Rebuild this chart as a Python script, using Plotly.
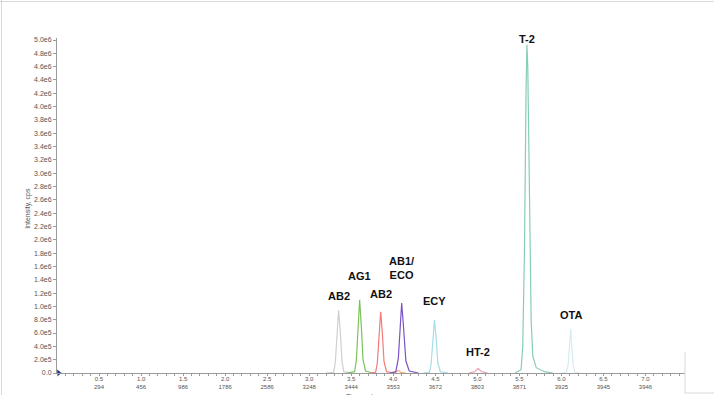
import plotly.graph_objects as go

# ---- data (time in min, intensity in cps) ----
peak_names = ["AB2", "AG1", "AB2", "AB1/<br>ECO", "ECY", "HT-2", "T-2", "OTA"]
peak_colors = ["#cfcfcf", "#7cc35a", "#f27b7b", "#7b55c4", "#a8dcea", "#f0a7b5", "#86cdb6", "#d6ebf2"]

ab2a_t = [3.20, 3.29, 3.31, 3.33, 3.35, 3.37, 3.39, 3.41, 3.50]
ab2a_i = [0, 0.01e6, 0.15e6, 0.62e6, 0.94e6, 0.62e6, 0.18e6, 0.02e6, 0]

ag1_t = [3.45, 3.54, 3.56, 3.58, 3.60, 3.62, 3.64, 3.67, 3.75]
ag1_i = [0, 0.02e6, 0.18e6, 0.72e6, 1.10e6, 0.70e6, 0.20e6, 0.03e6, 0]

ab2b_t = [3.72, 3.79, 3.81, 3.83, 3.85, 3.87, 3.89, 3.92, 4.00]
ab2b_i = [0, 0.01e6, 0.15e6, 0.60e6, 0.92e6, 0.60e6, 0.17e6, 0.02e6, 0]

ab1_t = [3.96, 4.03, 4.06, 4.08, 4.10, 4.12, 4.15, 4.19, 4.30]
ab1_i = [0, 0.02e6, 0.22e6, 0.75e6, 1.05e6, 0.72e6, 0.18e6, 0.03e6, 0]

eco_t = [3.98, 4.03, 4.06, 4.09, 4.15]
eco_i = [0, 0.01e6, 0.04e6, 0.01e6, 0]

ecy_t = [4.36, 4.43, 4.45, 4.47, 4.49, 4.51, 4.53, 4.56, 4.65]
ecy_i = [0, 0.01e6, 0.13e6, 0.52e6, 0.80e6, 0.52e6, 0.15e6, 0.02e6, 0]

ht2_t = [4.90, 4.97, 5.01, 5.05, 5.12]
ht2_i = [0, 0.02e6, 0.07e6, 0.02e6, 0]

t2_t = [5.45, 5.52, 5.54, 5.56, 5.58, 5.59, 5.60, 5.62, 5.64, 5.66, 5.70, 5.80, 5.90]
t2_i = [0, 0.05e6, 0.40e6, 1.80e6, 4.30e6, 4.93e6, 4.60e6, 2.50e6, 0.80e6, 0.25e6, 0.08e6, 0.02e6, 0]

ota_t = [6.00, 6.06, 6.08, 6.10, 6.11, 6.12, 6.14, 6.16, 6.22]
ota_i = [0, 0.01e6, 0.12e6, 0.45e6, 0.66e6, 0.45e6, 0.12e6, 0.01e6, 0]

x_tickvals = [0.5, 1.0, 1.5, 2.0, 2.5, 3.0, 3.5, 4.0, 4.5, 5.0, 5.5, 6.0, 6.5, 7.0]
x_scans = ["294", "456", "986", "1786", "2586", "3248", "3444", "3553", "3672", "3803", "3871", "3925", "3945", "3946"]
y_tickvals = [i * 2e5 for i in range(26)]
y_ticktext = ["0.0"] + ["%.1fe5" % (v / 1e5) for v in y_tickvals[1:5]] + ["%.1fe6" % (v / 1e6) for v in y_tickvals[5:]]

series = [
    (ab2a_t, ab2a_i, peak_colors[0]),
    (ag1_t, ag1_i, peak_colors[1]),
    (ab2b_t, ab2b_i, peak_colors[2]),
    (eco_t, eco_i, "#f5b27a"),
    (ab1_t, ab1_i, peak_colors[3]),
    (ecy_t, ecy_i, peak_colors[4]),
    (ht2_t, ht2_i, peak_colors[5]),
    (t2_t, t2_i, peak_colors[6]),
    (ota_t, ota_i, peak_colors[7]),
]
label_series = [(ab2a_t, ab2a_i), (ag1_t, ag1_i), (ab2b_t, ab2b_i), (ab1_t, ab1_i),
                (ecy_t, ecy_i), (ht2_t, ht2_i), (t2_t, t2_i), (ota_t, ota_i)]
label_shift = [14, 24, 18, 35, 19, 16, 6, 14]

fig = go.Figure()
for t, i, c in series:
    fig.add_trace(go.Scatter(x=t, y=i, mode="lines", line=dict(color=c, width=1.2),
                             hoverinfo="skip", showlegend=False))

# origin marker
fig.add_trace(go.Scatter(x=[0.02], y=[0], mode="markers",
                         marker=dict(symbol="triangle-right", size=6, color="#1f3b8f"),
                         showlegend=False, hoverinfo="skip", cliponaxis=False))

for name, (t, i), sh in zip(peak_names, label_series, label_shift):
    k = i.index(max(i))
    fig.add_annotation(x=t[k], y=i[k], text="<b>" + name + "</b>", showarrow=False,
                       yshift=sh, font=dict(family="Liberation Sans, Arial", size=11, color="#111"))

tick_font = dict(family="Liberation Sans, Arial", size=7, color="#555")
fig.update_layout(
    width=714, height=395,
    margin=dict(l=57, r=29, t=38, b=22, autoexpand=False),
    paper_bgcolor="white", plot_bgcolor="white",
    xaxis=dict(range=[0, 7.47], showgrid=False, zeroline=False,
               showline=True, linecolor="#9a9a9a", linewidth=1,
               tickmode="array", tickvals=x_tickvals,
               ticktext=["%.1f<br>%s" % (v, s) for v, s in zip(x_tickvals, x_scans)],
               ticks="outside", ticklen=2, tickcolor="#9a9a9a",
               tickfont=dict(family="Liberation Sans, Arial", size=6, color="#555"),
               ticklabelstandoff=-2,
               minor=dict(tickmode="linear", tick0=0, dtick=0.1, ticks="outside",
                          ticklen=2, tickcolor="#9a9a9a"),
               automargin=False, fixedrange=True),
    yaxis=dict(range=[0, 5.03e6], showgrid=False, zeroline=False,
               showline=True, linecolor="#9a9a9a", linewidth=1,
               tickmode="array", tickvals=y_tickvals, ticktext=y_ticktext,
               ticks="outside", ticklen=3, tickcolor="#9a9a9a", tickfont=tick_font,
               automargin=False, fixedrange=True),
)

fig.add_annotation(xref="paper", yref="paper", x=0.485, y=0, yshift=-18, yanchor="top",
                   text="Time, min", showarrow=False,
                   font=dict(family="Liberation Sans, Arial", size=7, color="#555"))
fig.add_annotation(xref="paper", yref="paper", x=0, y=0.49, xshift=-35, textangle=-90,
                   text="Intensity, cps", showarrow=False,
                   font=dict(family="Liberation Sans, Arial", size=7, color="#555"))

# thin frame pieces of the original picture
def px(xp):
    return (xp - 57) / 628.0

def py(yp):
    return (373 - yp) / 335.0

frame = dict(color="#d9d9d9", width=1)
fig.add_shape(type="line", xref="paper", yref="paper", x0=px(0), x1=px(714), y0=py(1.5), y1=py(1.5), line=frame)
fig.add_shape(type="line", xref="paper", yref="paper", x0=px(1.5), x1=px(1.5), y0=py(0), y1=py(395), line=frame)
fig.add_shape(type="line", xref="paper", yref="paper", x0=px(685), x1=px(685), y0=py(352), y1=py(393), line=frame)
fig.add_shape(type="line", xref="paper", yref="paper", x0=px(685), x1=px(714), y0=py(393), y1=py(393), line=frame)

fig.write_html("out.html", config={"displayModeBar": False},
               post_script="document.body.style.margin='0';document.body.style.overflow='hidden';")
